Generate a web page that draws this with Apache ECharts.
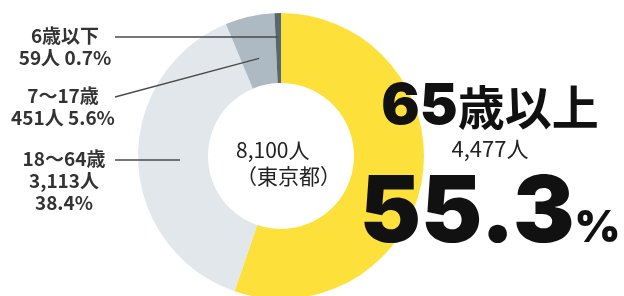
<!DOCTYPE html>
<html>
<head>
<meta charset="utf-8">
<script src="https://cdn.jsdelivr.net/npm/echarts@6/dist/echarts.min.js"></script>
<style>
  html, body { margin: 0; padding: 0; background: #fff; }
  #chart { width: 624px; height: 296px; }
</style>
</head>
<body>
<div id="chart"></div>
<script>
const categories = ['65歳以上', '18〜64歳', '7〜17歳', '6歳以下']
const people = [4477, 3113, 451, 59]
const percents = [55.3, 38.4, 5.6, 0.7]
const totalLabel = '8,100人'
const areaLabel = '（東京都）'

const colors = ['#fde03a', '#e2e7eb', '#adbac4', '#56676f']
const center = [281, 156]
const radius = [73, 143]
const font = '"Noto Sans CJK JP", sans-serif'
const numFont = 'Inter, "DejaVu Sans", sans-serif'

// 引き出し線の内側の点（スライス中央角 × 半径）
const total = people.reduce((a, b) => a + b, 0)
function innerPoint(idx, r) {
  let before = 0
  for (let i = 0; i < idx; i++) before += people[i]
  let mid = (before + people[idx] / 2) / total * Math.PI * 2
  return [center[0] + r * Math.sin(mid), center[1] - r * Math.cos(mid)]
}

function fmtNum(n) {
  return n.toLocaleString('en-US')
}

// ラベル位置 (x: 中心, y: 上端)
const labelPos = {
  0: { x: 490, y: 80 },
  1: { x: 64, y: 148, line: 101 },
  2: { x: 63, y: 85, line: 100 },
  3: { x: 65, y: 25, line: 119 }
}
const lineEndX = 115

// 引き出し線
let leaders = []
;[1, 2, 3].forEach(i => {
  let p = innerPoint(i, labelPos[i].line)
  let ly = labelPos[i].y + 12
  if (i !== 2) p = [p[0], ly]
  leaders.push({
    type: 'polyline',
    silent: true,
    z: 100,
    shape: { points: [[lineEndX, ly], p] },
    style: { stroke: '#4a4a4a', lineWidth: 1.3, fill: null }
  })
})

const chart = echarts.init(document.getElementById('chart'))

let option = {
  animation: false,
  graphic: [
    {
      type: 'text',
      left: center[0] - 45,
      top: 137,
      style: {
        text: totalLabel + '\n' + areaLabel,
        fill: '#222',
        font: '21px ' + font,
        lineHeight: 26,
        align: 'center',
        width: 90
      }
    }
  ].concat(leaders),
  series: [
    {
      type: 'pie',
      center: center,
      radius: radius,
      startAngle: 90,
      clockwise: true,
      silent: true,
      data: categories.map((c, i) => ({
        name: c,
        value: people[i],
        itemStyle: { color: colors[i] }
      })),
      label: {
        show: true,
        position: 'outside',
        overflow: 'none',
        formatter: function (p) {
          let i = p.dataIndex
          if (i === 0) {
            return '{big|65}{bigj|歳以上}\n{mid|' + fmtNum(people[0]) + '人}\n{pct|' + percents[0] + '}{pcts|%}'
          }
          if (i === 1) {
            return '{s|' + categories[i] + '}\n{s|' + fmtNum(people[i]) + '人}\n{s|' + percents[i] + '%}'
          }
          return '{s|' + categories[i] + '}\n{s|' + fmtNum(people[i]) + '人 ' + percents[i] + '%}'
        },
        rich: {
          s: { fontSize: 19, fontWeight: 'bold', color: '#333', lineHeight: 22, fontFamily: font, align: 'center' },
          big: { fontSize: 57, fontWeight: 900, color: '#111', lineHeight: 54, fontFamily: numFont },
          bigj: { fontSize: 47, fontWeight: 'bold', color: '#111', lineHeight: 54, fontFamily: font },
          mid: { fontSize: 22, color: '#222', lineHeight: 30, fontFamily: font, align: 'center' },
          pct: { fontSize: 92, fontWeight: 900, color: '#111', lineHeight: 96, fontFamily: numFont, verticalAlign: 'bottom' },
          pcts: { fontSize: 44, fontWeight: 900, color: '#111', lineHeight: 50, fontFamily: numFont, verticalAlign: 'bottom', padding: [0, 0, 9, 0] }
        }
      },
      labelLine: { show: false },
      labelLayout: function (params) {
        let pos = labelPos[params.dataIndex]
        return { x: pos.x, y: pos.y, align: 'center', verticalAlign: 'top' }
      }
    }
  ]
}

chart.setOption(option)
</script>
</body>
</html>
